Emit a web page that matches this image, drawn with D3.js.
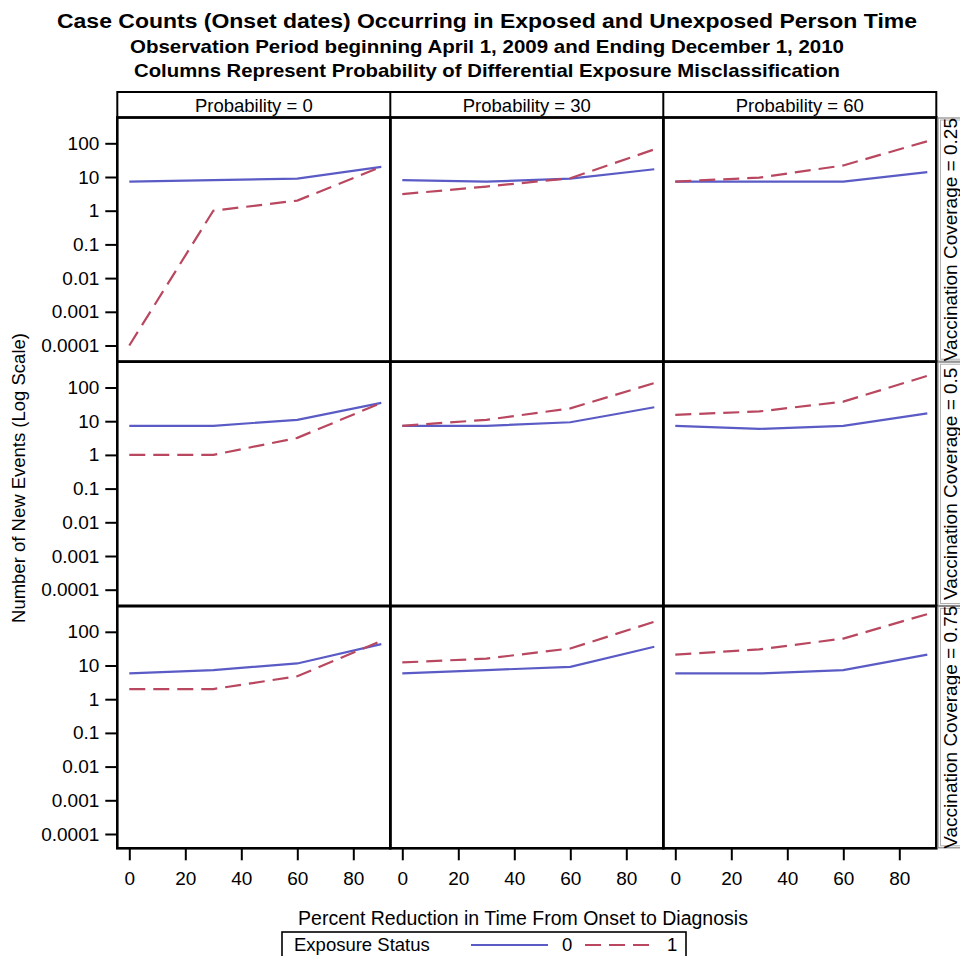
<!DOCTYPE html>
<html>
<head>
<meta charset="utf-8">
<script src="https://cdn.jsdelivr.net/npm/d3@7"></script>
<style>
  body { margin: 0; background: #fff; }
  svg { display: block; }
  text { font-family: "Liberation Sans", Arial, sans-serif; fill: #000; }
</style>
</head>
<body>
<svg id="chart" width="960" height="956"></svg>
<script>
// ---- data -------------------------------------------------------------
const reductionPct = [0, 30, 60, 90];            // x values (percent reduction)
const probabilityLevels = [0, 30, 60];            // panel columns
const coverageLevels = [0.25, 0.5, 0.75];         // panel rows
const xTickValues = [0, 20, 40, 60, 80];
const yTickValues = [100, 10, 1, 0.1, 0.01, 0.001, 0.0001];
const yTickLabels = ["100", "10", "1", "0.1", "0.01", "0.001", "0.0001"];

// New events, exposure status 0 (one inner array per probability column)
const status0Cov025 = [[7.3, 8.1, 8.9, 20], [8.1, 7.3, 8.9, 17], [7.3, 7.3, 7.3, 14]];
const status0Cov050 = [[7.3, 7.3, 11, 35], [7.3, 7.3, 9.3, 26], [7.3, 5.9, 7.3, 17]];
const status0Cov075 = [[5.8, 7.3, 11.5, 43], [5.8, 7.3, 9.1, 36], [5.8, 5.8, 7.3, 21]];

// New events, exposure status 1
const status1Cov025 = [[0.0001, 1, 2, 20], [3.1, 5.2, 9.2, 66], [7.3, 9.6, 22, 115]];
const status1Cov050 = [[1, 1, 3.2, 35], [7.3, 11, 24, 135], [15.5, 19.5, 38, 222]];
const status1Cov075 = [[2, 2, 4.8, 54], [12.3, 16, 32, 198], [21, 30, 63, 335]];

const status0Rows = [status0Cov025, status0Cov050, status0Cov075];
const status1Rows = [status1Cov025, status1Cov050, status1Cov075];

const titleLines = [
  "Case Counts (Onset dates) Occurring in Exposed and Unexposed Person Time",
  "Observation Period beginning April 1, 2009 and Ending December 1, 2010",
  "Columns Represent Probability of Differential Exposure Misclassification"
];

// ---- layout -----------------------------------------------------------
const svg = d3.select("#chart");
const panelLeft = 117.3;
const panelW = 273;
const rowTops = [117.5, 361.7, 606, 848.3];
const headerTop = 92;
const colorSolid = "#5b5bc6";
const colorDash = "#b8475f";

// titles
const titleSpecs = [
  { y: 27.5, size: 20, len: 860 },
  { y: 52.5, size: 18.5, len: 714 },
  { y: 76.5, size: 18.5, len: 706 }
];
titleLines.forEach((t, i) => {
  svg.append("text")
    .attr("x", 487).attr("y", titleSpecs[i].y)
    .attr("text-anchor", "middle")
    .attr("font-weight", "bold")
    .attr("font-size", titleSpecs[i].size)
    .attr("textLength", titleSpecs[i].len)
    .attr("lengthAdjust", "spacingAndGlyphs")
    .text(t);
});

// column header strip
const stripRight = panelLeft + panelW * probabilityLevels.length;
svg.append("rect")
  .attr("x", panelLeft).attr("y", headerTop)
  .attr("width", stripRight - panelLeft).attr("height", rowTops[0] - headerTop)
  .attr("fill", "#fff").attr("stroke", "#000").attr("stroke-width", 2);
probabilityLevels.forEach((p, c) => {
  const x0 = panelLeft + c * panelW;
  if (c > 0) {
    svg.append("line").attr("x1", x0).attr("x2", x0)
      .attr("y1", headerTop).attr("y2", rowTops[0])
      .attr("stroke", "#000").attr("stroke-width", 2);
  }
  svg.append("text")
    .attr("x", x0 + panelW / 2).attr("y", 111.5)
    .attr("text-anchor", "middle").attr("font-size", 18.5)
    .text("Probability = " + p);
});

// clip for the row strip labels on the right
svg.append("clipPath").attr("id", "rowStripClip")
  .append("rect").attr("x", 937).attr("y", rowTops[0])
  .attr("width", 30).attr("height", rowTops[3] - rowTops[0]);

const xScales = probabilityLevels.map((p, c) => {
  const x0 = panelLeft + c * panelW;
  return d3.scaleLinear().domain([0, 90]).range([x0 + 12, x0 + 12 + 252]);
});

coverageLevels.forEach((cov, r) => {
  const top = rowTops[r];
  const bottom = rowTops[r + 1];
  const y = d3.scaleLog().domain([0.0001, 100]).range([top + 228, top + 25.8]);

  // y axis on the left of each row
  const yAxis = svg.append("g")
    .attr("transform", `translate(${panelLeft},0)`)
    .call(d3.axisLeft(y).tickValues(yTickValues)
      .tickFormat((d, i) => yTickLabels[i])
      .tickSize(12).tickPadding(6).tickSizeOuter(0));
  yAxis.select(".domain").remove();
  yAxis.selectAll("line").attr("stroke", "#000").attr("stroke-width", 2);
  yAxis.selectAll("text").attr("font-size", 19).attr("font-family", null);

  probabilityLevels.forEach((p, c) => {
    const x = xScales[c];
    const x0 = panelLeft + c * panelW;
    const clipId = `clip-${r}-${c}`;
    svg.append("clipPath").attr("id", clipId)
      .append("rect").attr("x", x0).attr("y", top)
      .attr("width", panelW).attr("height", bottom - top);

    const g = svg.append("g").attr("clip-path", `url(#${clipId})`);
    const line = d3.line().x((d, i) => x(reductionPct[i])).y(d => y(d));

    g.append("path").datum(status0Rows[r][c])
      .attr("d", line).attr("fill", "none")
      .attr("stroke", colorSolid).attr("stroke-width", 2.2);
    g.append("path").datum(status1Rows[r][c])
      .attr("d", line).attr("fill", "none")
      .attr("stroke", colorDash).attr("stroke-width", 2.2)
      .attr("stroke-dasharray", "16,8");

    svg.append("rect")
      .attr("x", x0).attr("y", top).attr("width", panelW).attr("height", bottom - top)
      .attr("fill", "none").attr("stroke", "#000").attr("stroke-width", 2.6);
  });

  // row strip on the right
  const stripG = svg.append("g");
  stripG.append("rect")
    .attr("x", 938).attr("y", top + 0.5).attr("width", 30).attr("height", bottom - top - 1)
    .attr("fill", "#fff").attr("stroke", "#8a8a8a").attr("stroke-width", 1.2);
  stripG.append("rect")
    .attr("x", 940.5).attr("y", top + 2.5).attr("width", 30).attr("height", bottom - top - 5)
    .attr("fill", "none").attr("stroke", "#b0b0b0").attr("stroke-width", 1);
});

// row labels, clipped to the strip column
const rowLabelLayer = svg.append("g").attr("clip-path", "url(#rowStripClip)");
coverageLevels.forEach((cov, r) => {
  const cy = (rowTops[r] + rowTops[r + 1]) / 2;
  rowLabelLayer.append("text")
    .attr("transform", `translate(956.5,${cy}) rotate(-90)`)
    .attr("text-anchor", "middle").attr("font-size", 19)
    .text("Vaccination Coverage = " + cov);
});

// x axes under the bottom row
probabilityLevels.forEach((p, c) => {
  const xAxis = svg.append("g")
    .attr("transform", `translate(0,${rowTops[3]})`)
    .call(d3.axisBottom(xScales[c]).tickValues(xTickValues)
      .tickSize(12).tickPadding(11.5).tickSizeOuter(0));
  xAxis.select(".domain").remove();
  xAxis.selectAll("line").attr("stroke", "#000").attr("stroke-width", 2);
  xAxis.selectAll("text").attr("font-size", 19).attr("font-family", null);
});

// axis titles
svg.append("text")
  .attr("x", 523).attr("y", 925)
  .attr("text-anchor", "middle").attr("font-size", 19.5)
  .text("Percent Reduction in Time From Onset to Diagnosis");
svg.append("text")
  .attr("transform", `translate(25,478) rotate(-90)`)
  .attr("text-anchor", "middle").attr("font-size", 18.5)
  .text("Number of New Events (Log Scale)");

// legend
const legend = svg.append("g");
legend.append("rect")
  .attr("x", 282).attr("y", 932).attr("width", 404).attr("height", 40)
  .attr("fill", "#fff").attr("stroke", "#000").attr("stroke-width", 1.6);
legend.append("text").attr("x", 294).attr("y", 951).attr("font-size", 18.5).text("Exposure Status");
legend.append("line").attr("x1", 471).attr("x2", 548).attr("y1", 945).attr("y2", 945)
  .attr("stroke", colorSolid).attr("stroke-width", 2.2);
legend.append("text").attr("x", 562).attr("y", 951).attr("font-size", 18.5).text("0");
legend.append("line").attr("x1", 585).attr("x2", 652).attr("y1", 945).attr("y2", 945)
  .attr("stroke", colorDash).attr("stroke-width", 2.2).attr("stroke-dasharray", "16,8");
legend.append("text").attr("x", 667).attr("y", 951).attr("font-size", 18.5).text("1");
</script>
</body>
</html>
